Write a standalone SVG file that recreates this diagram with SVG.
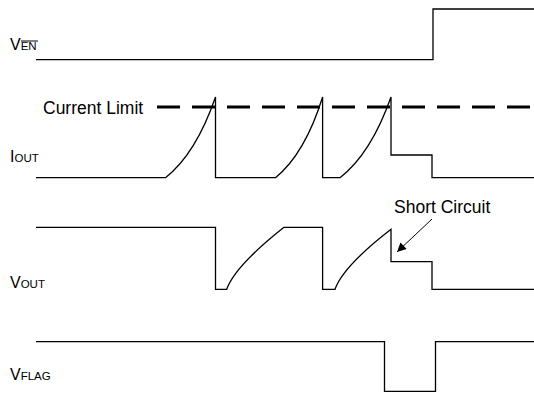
<svg xmlns="http://www.w3.org/2000/svg" width="534" height="394" viewBox="0 0 534 394">
<defs>
<style>
.sig{fill:none;stroke:#000;stroke-width:1.3;stroke-linejoin:miter}
.lbl{font-family:"Liberation Sans",Arial,sans-serif;font-size:16px;fill:#000}
.big{font-size:17.5px}
.sub{font-size:11.5px}
.lim{fill:none;stroke:#000;stroke-width:3;stroke-dasharray:23 12}
</style>
<marker id="ah" viewBox="0 0 10 10" refX="10" refY="5" markerWidth="10" markerHeight="9" markerUnits="userSpaceOnUse" orient="auto">
<path d="M0,0 L10,5 L0,10 z" fill="#000"/>
</marker>
</defs>
<g id="labels">
<g id="ven-label"><text class="lbl" x="10" y="50">V<tspan class="sub">EN</tspan></text><line x1="21" y1="41" x2="38" y2="41" stroke="#000" stroke-width="1"/></g>
<text id="iout-label" class="lbl" x="10" y="162">I<tspan class="sub">OUT</tspan></text>
<text id="vout-label" class="lbl" x="10" y="288">V<tspan class="sub">OUT</tspan></text>
<text id="vflag-label" class="lbl" x="10" y="380">V<tspan class="sub">FLAG</tspan></text>
<text id="cl-label" class="lbl big" x="43" y="114">Current Limit</text>
<text id="sc-label" class="lbl big" x="394" y="213">Short Circuit</text>
</g>
<g id="connectors">
<line class="lim" x1="157" y1="107" x2="534" y2="107"/>
<line x1="432" y1="219" x2="397" y2="252" stroke="#000" stroke-width="1" marker-end="url(#ah)"/>
</g>
<g id="ven"><path class="sig" d="M36,59.7 H433 V9 H534"/></g>
<g id="iout"><path class="sig" d="M36,177.7 H165.5 Q196,153.6 215.5,97 V177.7 H275.5 Q305,153.6 322.6,97 V177.7 H340 Q371,153.6 391,97 V155 H432 V177.7 H534"/></g>
<g id="vout"><path class="sig" d="M36,227.3 H215.5 V289.3 H226.7 Q235,266 284,227.3 H322.6 V289.3 H335 Q343,266.5 391,229.3 V261.7 H432 V289.3 H534"/></g>
<g id="vflag"><path class="sig" d="M36,341.7 H384.5 V391.3 H435.5 V341.7 H534"/></g>
</svg>
